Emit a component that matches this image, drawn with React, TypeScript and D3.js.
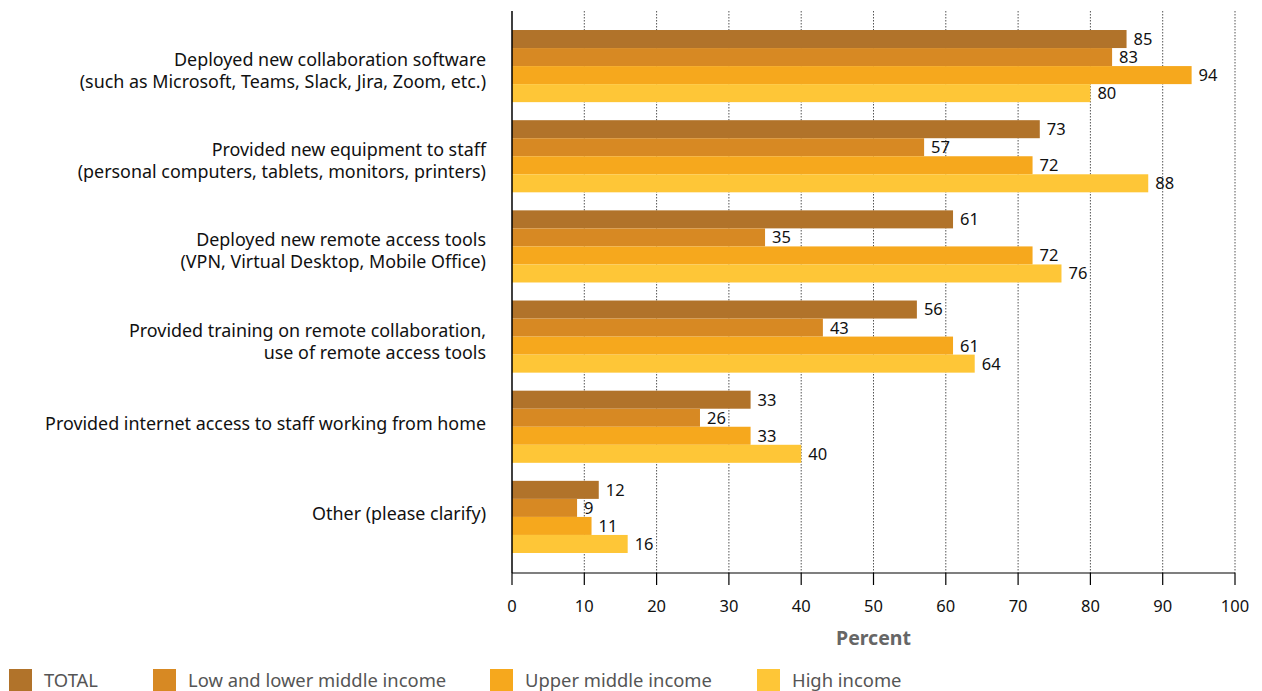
import React from "react";
import * as d3 from "d3";

const categories: string[][] = [
  ["Deployed new collaboration software", "(such as Microsoft, Teams, Slack, Jira, Zoom, etc.)"],
  ["Provided new equipment to staff", "(personal computers, tablets, monitors, printers)"],
  ["Deployed new remote access tools", "(VPN, Virtual Desktop, Mobile Office)"],
  ["Provided training on remote collaboration,", "use of remote access tools"],
  ["Provided internet access to staff working from home"],
  ["Other (please clarify)"],
];
const seriesNames = ["TOTAL", "Low and lower middle income", "Upper middle income", "High income"];
const total = [85, 73, 61, 56, 33, 12];
const lowLowerMiddle = [83, 57, 35, 43, 26, 9];
const upperMiddle = [94, 72, 72, 61, 33, 11];
const highIncome = [80, 88, 76, 64, 40, 16];
const xTicks = [0, 10, 20, 30, 40, 50, 60, 70, 80, 90, 100];
const colors = ["#b1732a", "#d78923", "#f6a81d", "#fec637"];

const series = [total, lowLowerMiddle, upperMiddle, highIncome];
const FONT = "'Noto Sans', sans-serif";

export default function App() {
  const W = 1262, H = 691;
  const x = d3.scaleLinear().domain([0, 100]).range([512, 1235]);
  const y = d3.scaleBand<number>().domain(d3.range(categories.length)).range([21, 562]).paddingInner(0.2).paddingOuter(0.1);
  const inner = d3.scaleBand<number>().domain(d3.range(series.length)).range([0, y.bandwidth()]);
  const axisY = 573;
  const legendX = [9, 153, 490, 757];

  return (
    <svg width={W} height={H} style={{ position: "absolute", left: 0, top: 0, fontFamily: FONT }}>
      {xTicks.slice(1).map((t) => (
        <line key={"g" + t} x1={x(t)} x2={x(t)} y1={11} y2={axisY} stroke="#555" strokeWidth={1} strokeDasharray="1.5,1.5" />
      ))}
      {categories.map((_, ci) =>
        series.map((s, si) => (
          <g key={ci + "-" + si}>
            <rect x={x(0)} y={(y(ci) as number) + (inner(si) as number)} width={x(s[ci]) - x(0)} height={inner.bandwidth()} fill={colors[si]} />
            <text x={x(s[ci]) + 7} y={(y(ci) as number) + (inner(si) as number) + inner.bandwidth() / 2} dy="0.36em" fontSize={16.5} fill="#111">
              {s[ci]}
            </text>
          </g>
        ))
      )}
      <line x1={x(0)} x2={x(0)} y1={11} y2={axisY} stroke="#000" strokeWidth={1.5} />
      <line x1={x(0)} x2={x(100)} y1={axisY} y2={axisY} stroke="#000" strokeWidth={1.2} />
      {xTicks.map((t) => (
        <g key={"t" + t}>
          <line x1={x(t)} x2={x(t)} y1={axisY} y2={axisY + 12} stroke="#000" strokeWidth={1.2} />
          <text x={x(t)} y={606} dy="0.36em" textAnchor="middle" fontSize={16.5} fill="#111">{t}</text>
        </g>
      ))}
      <text x={(x(0) + x(100)) / 2} y={638} dy="0.36em" textAnchor="middle" fontSize={19.5} fontWeight="bold" fill="#666">Percent</text>
      {categories.map((lines, ci) => {
        const c = (y(ci) as number) + y.bandwidth() / 2;
        const base = lines.length === 2 ? c : c + 3;
        return (
          <text key={"c" + ci} x={486} textAnchor="end" fontSize={17.9} fill="#111">
            {lines.map((l, li) => (
              <tspan key={li} x={486} y={base + li * 22}>{l}</tspan>
            ))}
          </text>
        );
      })}
      {seriesNames.map((n, i) => (
        <g key={"l" + i}>
          <rect x={legendX[i]} y={669} width={23} height={22} fill={colors[i]} />
          <text x={legendX[i] + 35} y={680} dy="0.36em" fontSize={18.4} fill="#555">{n}</text>
        </g>
      ))}
    </svg>
  );
}
